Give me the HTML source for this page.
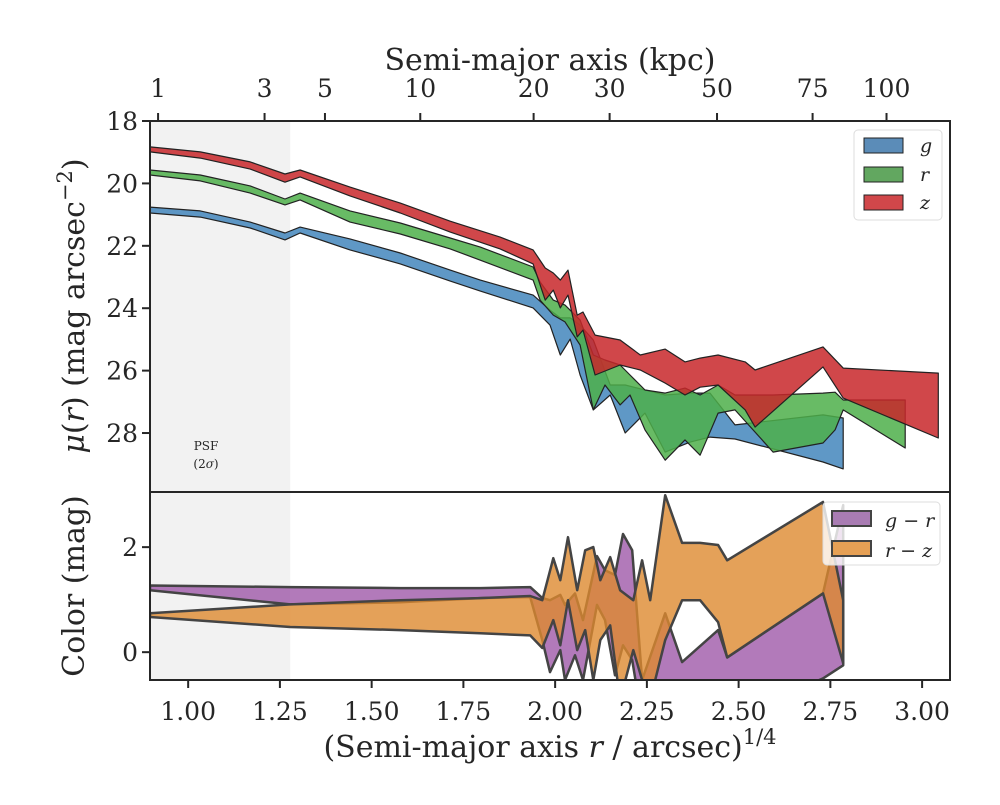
<!DOCTYPE html>
<html><head><meta charset="utf-8"><style>
body{margin:0;background:#fff;}
svg text{font-family:"DejaVu Serif","Liberation Serif",serif;fill:#262626;}
</style></head><body>
<svg id="chart" width="1000" height="800" viewBox="0 0 1000 800" xmlns="http://www.w3.org/2000/svg">
<rect width="1000" height="800" fill="#fff"/>
<g id="top-panel"></g>
<g id="bot-panel"></g>
<g id="axes"></g>
<g>
<text x="206" y="450" font-size="12" text-anchor="middle">PSF</text>
<text x="206" y="468" font-size="12" text-anchor="middle">(2<tspan font-style="italic">σ</tspan>)</text>
</g>
<text x="550" y="70" font-size="30" text-anchor="middle">Semi-major axis (kpc)</text>
<text x="550" y="757" font-size="30" text-anchor="middle">(Semi-major axis <tspan font-style="italic">r</tspan> / arcsec)<tspan font-size="21" dy="-13">1/4</tspan></text>
<text transform="translate(84,306) rotate(-90)" font-size="30" text-anchor="middle"><tspan font-style="italic">μ</tspan>(<tspan font-style="italic">r</tspan>) (mag arcsec<tspan font-size="21" dy="-12">−2</tspan><tspan dy="12">)</tspan></text>
<text transform="translate(84,586) rotate(-90)" font-size="30" text-anchor="middle">Color (mag)</text>
<g>
<rect x="854" y="130" width="88" height="90" rx="4" fill="#fff" fill-opacity="0.8" stroke="#ddd"/>
<rect x="864" y="138" width="39" height="15" fill="#5b8cb8" stroke="#222"/>
<text x="920" y="152" font-size="19" font-style="italic" font-family="DejaVu Sans">g</text>
<rect x="864" y="167" width="39" height="15" fill="#62a760" stroke="#222"/>
<text x="920" y="181" font-size="19" font-style="italic" font-family="DejaVu Sans">r</text>
<rect x="864" y="195" width="39" height="15" fill="#d1474a" stroke="#222"/>
<text x="920" y="209" font-size="19" font-style="italic" font-family="DejaVu Sans">z</text>
</g>
<g>
<rect x="823" y="502" width="117" height="63" rx="4" fill="#fff" fill-opacity="0.8" stroke="#ddd"/>
<rect x="832" y="511" width="39" height="15" fill="#a97cb3" stroke="#444" stroke-width="2"/>
<text x="885" y="527" font-size="19" font-style="italic" font-family="DejaVu Sans">g − r</text>
<rect x="832" y="541" width="39" height="15" fill="#e6a055" stroke="#444" stroke-width="2"/>
<text x="885" y="557" font-size="19" font-style="italic" font-family="DejaVu Sans">r − z</text>
</g>
</svg>
<script>
// ---- data ----
const zX=[0.896,1.033,1.169,1.264,1.305,1.441,1.578,1.714,1.85,1.94,1.973,1.995,2.014,2.035,2.06,2.076,2.109,2.177,2.232,2.3,2.354,2.395,2.444,2.518,2.545,2.73,2.785,3.044];
const zHi=[18.83,18.99,19.31,19.70,19.57,20.12,20.63,21.21,21.72,22.13,22.71,22.87,23.10,22.78,24.22,24.12,24.86,25.02,25.50,25.31,25.72,25.60,25.50,25.72,25.98,25.24,25.92,26.08];
const zLo=[18.99,19.19,19.54,19.96,19.79,20.40,20.95,21.56,22.10,22.58,23.74,23.42,23.99,23.58,24.92,24.70,26.14,25.82,25.98,26.40,26.78,26.53,26.46,27.26,27.81,25.88,26.88,28.16];
const rX=[0.896,1.033,1.169,1.264,1.305,1.441,1.578,1.714,1.796,1.94,1.959,1.995,2.027,2.068,2.104,2.136,2.177,2.204,2.245,2.30,2.354,2.395,2.444,2.49,2.594,2.73,2.763,2.785,2.954];
const rHi=[19.57,19.73,20.08,20.50,20.31,20.88,21.27,21.75,22.04,22.68,23.16,23.74,23.90,24.38,25.50,25.66,25.82,26.14,26.62,26.72,26.56,26.78,26.46,26.78,26.78,26.72,26.69,26.94,26.94];
const rLo=[19.73,19.92,20.31,20.69,20.53,21.24,21.62,22.10,22.46,23.10,23.74,24.22,24.44,25.18,27.26,26.46,27.10,26.78,27.90,28.87,28.22,28.71,27.36,27.26,28.61,28.32,27.90,27.26,28.48];
const gX=[0.896,1.033,1.169,1.264,1.305,1.441,1.578,1.714,1.796,1.94,1.986,2.014,2.041,2.068,2.104,2.15,2.191,2.245,2.30,2.368,2.422,2.49,2.73,2.785];
const gHi=[20.76,20.88,21.24,21.59,21.40,21.78,22.23,22.78,23.10,23.58,24.06,24.31,24.31,24.54,25.02,26.46,26.46,26.62,26.78,26.72,26.72,27.74,27.42,27.52];
const gLo=[20.95,21.08,21.43,21.81,21.59,22.13,22.58,23.13,23.45,23.99,24.54,25.50,24.99,26.14,27.26,26.78,28.0,27.36,28.61,28.29,28.13,28.19,28.93,29.15];
const grX=[0.896,1.278,1.578,1.796,1.932,1.965,1.986,2.014,2.027,2.054,2.076,2.114,2.136,2.163,2.185,2.210,2.237,2.300,2.346,2.444,2.469,2.730,2.785];
const grHi=[1.27,1.24,1.22,1.22,1.24,1.03,0.99,1.09,0.90,1.12,0.61,1.83,1.56,1.47,2.25,1.94,-0.53,0.74,-0.19,0.42,-0.10,1.12,2.80];
const grLo=[1.18,0.91,0.95,1.03,1.05,0.23,-0.38,0.04,-0.53,-0.06,-0.53,0.90,0.61,-0.44,0.13,-0.15,-1.3,-1.3,-1.3,-1.3,-1.3,-0.50,-0.25];
const rzX=[0.896,1.278,1.578,1.796,1.932,1.965,1.995,2.014,2.035,2.060,2.082,2.104,2.123,2.150,2.177,2.213,2.237,2.259,2.300,2.346,2.395,2.444,2.469,2.730,2.785];
const rzHi=[0.74,0.91,0.99,1.03,1.07,0.99,1.79,1.37,2.19,1.18,1.94,2.00,1.37,1.81,1.18,0.99,1.75,0.99,2.99,2.08,2.08,2.04,1.75,2.86,0.99];
const rzLo=[0.67,0.48,0.42,0.36,0.32,0.08,0.61,0.13,0.99,0.04,0.42,-0.53,0.23,0.51,-0.91,0.04,-0.53,-0.91,0.23,0.99,0.99,0.57,-0.10,1.12,-0.21];
const xTicks=[1.00,1.25,1.50,1.75,2.00,2.25,2.50,2.75,3.00];
const muTicks=[18,20,22,24,26,28];
const colTicks=[0,2];
const kpcTicks=[1,3,5,10,20,30,50,75,100];
const kpcPerArcsec=1.408;
// ---- scales ----
const L=150,R=950,T1=121,B1=492,B2=680;
const xS=v=>L+(v-0.896)/(3.076-0.896)*(R-L);
const muS=v=>T1+(v-18)/(29.89-18)*(B1-T1);
const cS=v=>B1+(3.05-v)/(3.05+0.53)*(B2-B1);
const NS='http://www.w3.org/2000/svg';
function mk(tag,parent,attrs){const e=document.createElementNS(NS,tag);for(const k in attrs)e.setAttribute(k,attrs[k]);parent.appendChild(e);return e;}
const topG=document.getElementById('top-panel'),botG=document.getElementById('bot-panel'),axG=document.getElementById('axes');
const defs=mk('defs',document.getElementById('chart'),{});
const c1=mk('clipPath',defs,{id:'c1'});mk('rect',c1,{x:L,y:T1,width:R-L,height:B1-T1});
const c2=mk('clipPath',defs,{id:'c2'});mk('rect',c2,{x:L,y:B1,width:R-L,height:B2-B1});
topG.setAttribute('clip-path','url(#c1)');botG.setAttribute('clip-path','url(#c2)');
const ps1=mk('rect',topG,{x:L,y:T1,width:xS(1.278)-L,height:B1-T1,fill:'#f2f2f2'});


const ps2=mk('rect',botG,{x:L,y:B1,width:xS(1.278)-L,height:B2-B1,fill:'#f2f2f2'});


function band(parent,X,H,Lo,ys,fill,op,stroke,sw){
  let d='M'+X.map((x,i)=>xS(x).toFixed(1)+','+ys(H[i]).toFixed(1)).join('L');
  for(let i=X.length-1;i>=0;i--)d+='L'+xS(X[i]).toFixed(1)+','+ys(Lo[i]).toFixed(1);
  d+='Z';
  return mk('path',parent,{d:d,fill:fill,'fill-opacity':op,stroke:stroke,'stroke-width':sw,'stroke-linejoin':'round'});
}
let b;
b=band(topG,gX,gHi,gLo,muS,'#377eb8',0.8,'#222',1.2);


b=band(topG,rX,rHi,rLo,muS,'#4daf4a',0.85,'#222',1.2);


b=band(topG,zX,zHi,zLo,muS,'#c8272a',0.85,'#222',1.2);


b=band(botG,grX,grHi,grLo,cS,'#984ea3',0.75,'#444',2.5);


b=band(botG,rzX,rzHi,rzLo,cS,'#dd8a30',0.8,'#444',2.5);


mk('rect',axG,{x:L,y:T1,width:R-L,height:B1-T1,fill:'none',stroke:'#262626','stroke-width':2});
mk('rect',axG,{x:L,y:B1,width:R-L,height:B2-B1,fill:'none',stroke:'#262626','stroke-width':2});
xTicks.forEach(v=>{const x=xS(v);mk('line',axG,{x1:x,x2:x,y1:B2,y2:B2+8,stroke:'#262626','stroke-width':2});
 const t=mk('text',axG,{x:x,y:B2+40,'font-size':25,'text-anchor':'middle'});t.textContent=v.toFixed(2);
 
 });
muTicks.forEach(v=>{const y=muS(v);mk('line',axG,{x1:L-8,x2:L,y1:y,y2:y,stroke:'#262626','stroke-width':2});
 const t=mk('text',axG,{x:L-12,y:y+9,'font-size':25,'text-anchor':'end'});t.textContent=v;
 
 });
colTicks.forEach(v=>{const y=cS(v);mk('line',axG,{x1:L-8,x2:L,y1:y,y2:y,stroke:'#262626','stroke-width':2});
 const t=mk('text',axG,{x:L-12,y:y+9,'font-size':25,'text-anchor':'end'});t.textContent=v;
 
 });
kpcTicks.forEach(v=>{const x=xS(Math.pow(v/kpcPerArcsec,0.25));mk('line',axG,{x1:x,x2:x,y1:T1-8,y2:T1,stroke:'#262626','stroke-width':2});
 const t=mk('text',axG,{x:x,y:T1-24,'font-size':25,'text-anchor':'middle'});t.textContent=v;
 
 });
</script>
</body></html>
